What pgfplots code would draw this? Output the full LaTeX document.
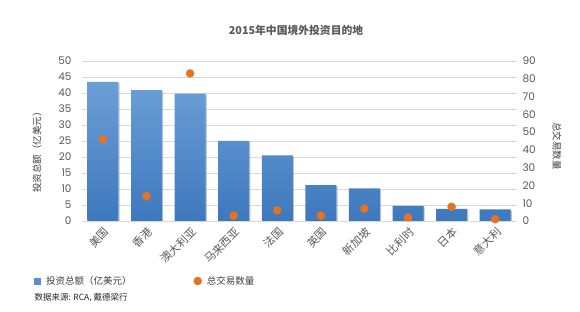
\documentclass[border=0pt]{standalone}
\usepackage{pgfplots}
\pgfplotsset{compat=1.18}
\usetikzlibrary{shadows}
\usepackage{fontspec}
\setmainfont{Noto Sans CJK SC}
\newfontfamily\numfont{Poppins}
\definecolor{barlight}{HTML}{6B9FD6}
\definecolor{bardark}{HTML}{3E78BD}
\definecolor{barmid}{HTML}{5A8FCC}
\definecolor{dotor}{HTML}{E8731F}
\definecolor{gridc}{HTML}{D9D9D9}
\definecolor{txt}{HTML}{595959}
\definecolor{lbl}{HTML}{404040}
\begin{document}
\begin{tikzpicture}[x=1pt,y=1pt]
\useasboundingbox (0,0) rectangle (580,312);
\fill[white] (0,0) rectangle (580,312);
\begin{axis}[
  at={(82pt,91pt)}, anchor=south west, scale only axis,
  width=435pt, height=160pt,
  xmin=-0.48, xmax=9.5, ymin=0, ymax=50, ytick={0,5,...,50},
  xtick={0,...,9},
  xticklabels={美国,香港,澳大利亚,马来西亚,法国,英国,新加坡,比利时,日本,意大利},
  xticklabel style={rotate=45, anchor=east, yshift=-9pt, font=\fontsize{11}{11}\selectfont, text=txt},
  yticklabel style={font=\numfont\fontsize{10.5}{10}\selectfont, text=txt, xshift=-7pt},
  /pgf/number format/assume math mode=true,
  axis line style={draw=none}, tick style={draw=none},
  ymajorgrids, grid style={gridc, line width=0.6pt},
]
\addplot[ybar, bar width=31pt, draw=none, top color=barlight, bottom color=bardark,
  drop shadow={shadow xshift=1.2pt, shadow yshift=-1.2pt, opacity=0.25}]
  coordinates {(0,43.5) (1,40.9) (2,39.8) (3,25.0) (4,20.5) (5,11.2) (6,10.2) (7,4.7) (8,3.8) (9,3.6)};
\end{axis}
\begin{axis}[
  at={(82pt,91pt)}, anchor=south west, scale only axis,
  width=435pt, height=160pt,
  xmin=-0.48, xmax=9.5, ymin=0, ymax=90, ytick={0,10,...,90},
  hide x axis, yticklabel pos=right,
  yticklabel style={font=\numfont\fontsize{10.5}{10}\selectfont, text=txt, xshift=2pt},
  /pgf/number format/assume math mode=true,
  axis line style={draw=none}, tick style={draw=none},
  legend style={at={(rel axis cs:-0.1185,-0.375)}, anchor=west, draw=none, fill=none,
    legend columns=2, font=\fontsize{9.5}{11}\selectfont, text=lbl,
    /tikz/every even column/.append style={column sep=60pt}},
]
\addlegendimage{legend image code/.code={\fill[barmid] (0pt,-3pt) rectangle (6pt,3pt); \path (10pt,0pt);}}
\addlegendentry{投资总额（亿美元）}
\addplot[only marks, mark=*, mark size=4pt, dotor,
  legend image code/.code={\fill[dotor] (4pt,0pt) circle (4pt); \path (11pt,0pt);}]
  coordinates {(0,46) (1,14) (2,83) (3,3) (4,6) (5,3) (6,7) (7,2) (8,8) (9,1)};
\addlegendentry{总交易数量}
\end{axis}
\node[font=\bfseries\fontsize{10.8}{12}\selectfont, text=txt] at (296,282) {2015年中国境外投资目的地};
\node[rotate=90, font=\fontsize{9.5}{10}\selectfont, text=lbl] at (37,162) {投资总额（亿美元）};
\node[rotate=-90, font=\fontsize{9.5}{10}\selectfont, text=lbl] at (557,166) {总交易数量};
\node[anchor=west, font=\fontsize{8.5}{10}\selectfont, text=black!85] at (31,14) {数据来源: RCA, 戴德梁行};
\end{tikzpicture}
\end{document}
